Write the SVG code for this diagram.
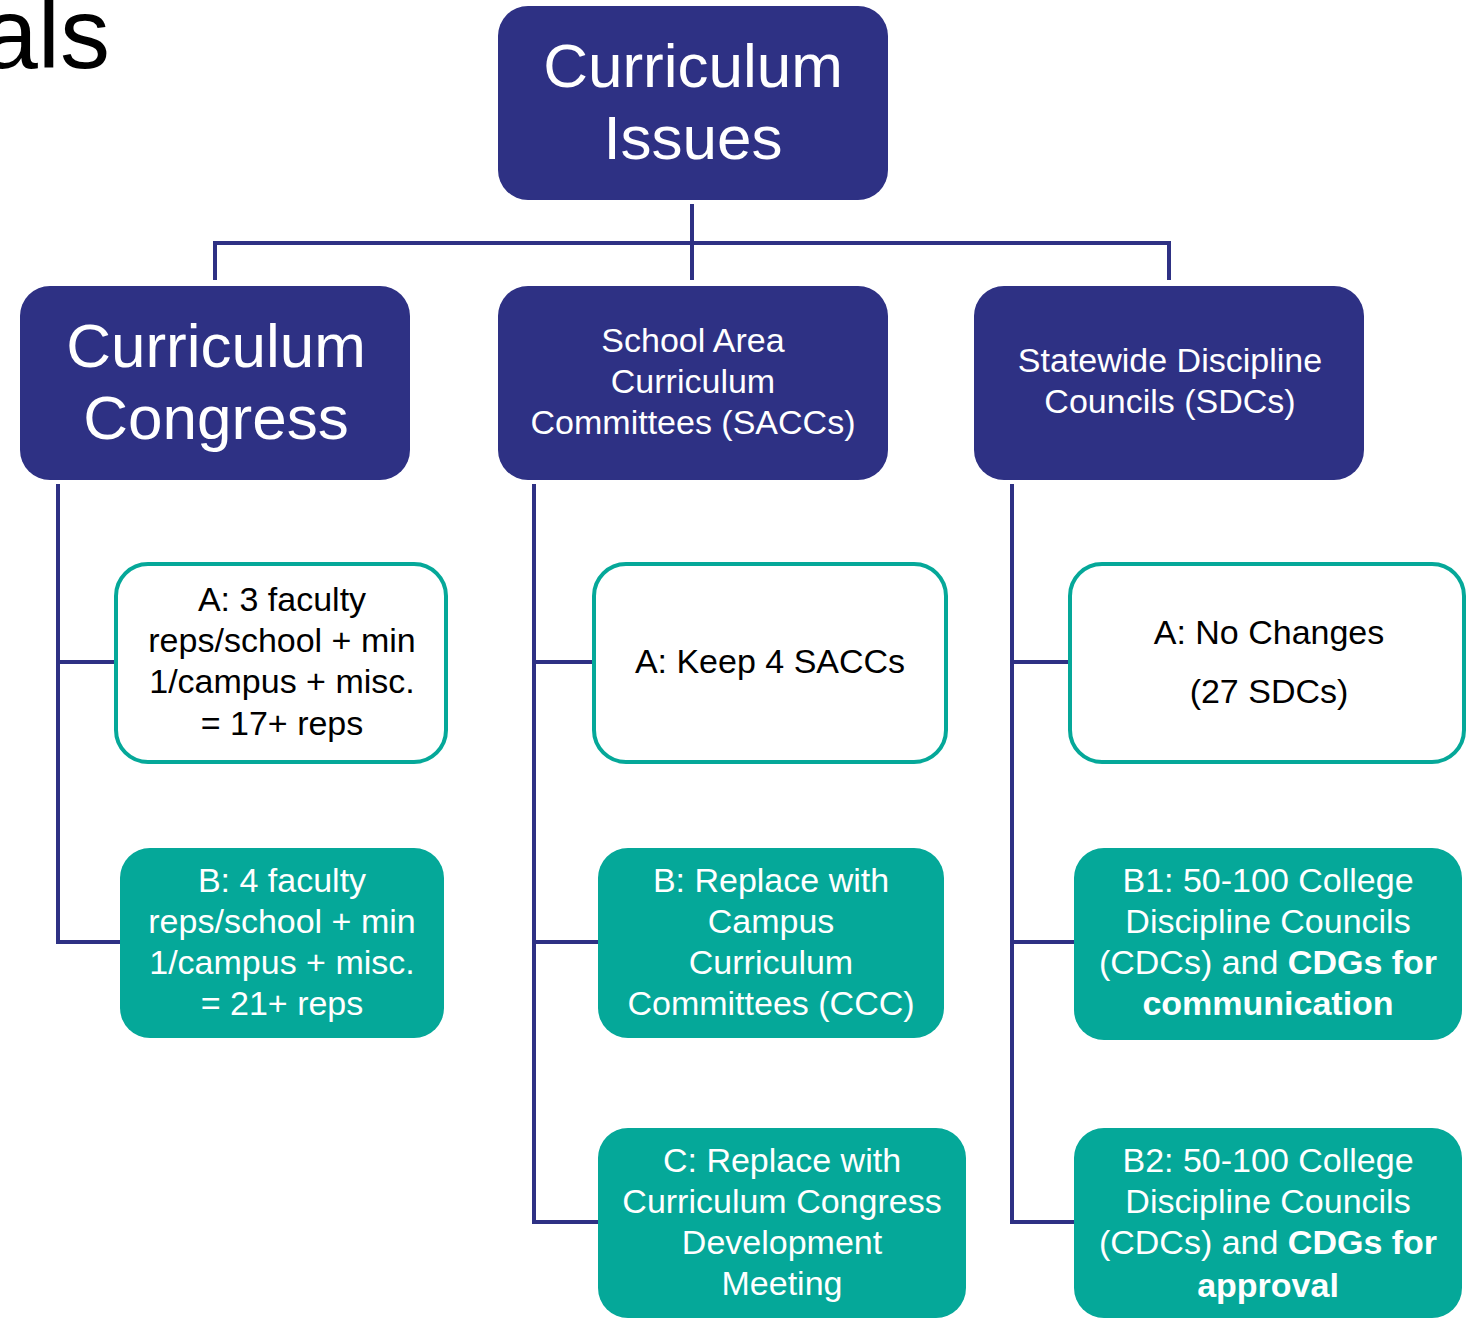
<svg xmlns="http://www.w3.org/2000/svg" width="1473" height="1319" viewBox="0 0 1473 1319">
<style>
.nv{fill:#2E3184;}
.ow{fill:#ffffff;stroke:#05A899;stroke-width:4;}
.tf{fill:#05A899;}
.wt{fill:#ffffff;font-family:"Liberation Sans","Noto Sans",sans-serif;text-anchor:middle;}
.bt{fill:#000000;font-family:"Liberation Sans","Noto Sans",sans-serif;text-anchor:middle;}
.big{font-size:62px;}
.mid{font-size:34px;}
.sm{font-size:34px;}
.b{font-weight:bold;}
.cn{fill:none;stroke:#2E3184;stroke-width:4;}
</style>
<rect width="1473" height="1319" fill="#ffffff"/>
<text x="110" y="68" font-family="Liberation Sans, sans-serif" font-size="100" text-anchor="end" fill="#000">als</text>
<g id="connectors">
<path class="cn" d="M692 204V280M215 280V243H1169V280"/>
<path class="cn" d="M58 484V942H120M58 662H116"/>
<path class="cn" d="M534 484V1222H598M534 662H594M534 942H598"/>
<path class="cn" d="M1012 484V1222H1074M1012 662H1070M1012 942H1074"/>
</g>
<g id="root">
<rect class="nv" x="498" y="6" width="390" height="194" rx="30"/>
<text class="wt big" x="693" y="87">Curriculum</text>
<text class="wt big" x="693" y="159">Issues</text>
</g>
<g id="congress">
<rect class="nv" x="20" y="286" width="390" height="194" rx="30"/>
<text class="wt big" x="216" y="367">Curriculum</text>
<text class="wt big" x="216" y="439">Congress</text>
</g>
<g id="saccs">
<rect class="nv" x="498" y="286" width="390" height="194" rx="30"/>
<text class="wt mid" x="693" y="352">School Area</text>
<text class="wt mid" x="693" y="393">Curriculum</text>
<text class="wt mid" x="693" y="434">Committees (SACCs)</text>
</g>
<g id="sdcs">
<rect class="nv" x="974" y="286" width="390" height="194" rx="30"/>
<text class="wt mid" x="1170" y="372">Statewide Discipline</text>
<text class="wt mid" x="1170" y="413">Councils (SDCs)</text>
</g>
<g id="cc-a">
<rect class="ow" x="116" y="564" width="330" height="198" rx="32"/>
<text class="bt sm" x="282" y="611">A: 3 faculty</text>
<text class="bt sm" x="282" y="652">reps/school + min</text>
<text class="bt sm" x="282" y="693">1/campus + misc.</text>
<text class="bt sm" x="282" y="735">= 17+ reps</text>
</g>
<g id="cc-b">
<rect class="tf" x="120" y="848" width="324" height="190" rx="30"/>
<text class="wt sm" x="282" y="892">B: 4 faculty</text>
<text class="wt sm" x="282" y="933">reps/school + min</text>
<text class="wt sm" x="282" y="974">1/campus + misc.</text>
<text class="wt sm" x="282" y="1015">= 21+ reps</text>
</g>
<g id="sa-a">
<rect class="ow" x="594" y="564" width="352" height="198" rx="32"/>
<text class="bt sm" x="770" y="673">A: Keep 4 SACCs</text>
</g>
<g id="sa-b">
<rect class="tf" x="598" y="848" width="346" height="190" rx="30"/>
<text class="wt sm" x="771" y="892">B: Replace with</text>
<text class="wt sm" x="771" y="933">Campus</text>
<text class="wt sm" x="771" y="974">Curriculum</text>
<text class="wt sm" x="771" y="1015">Committees (CCC)</text>
</g>
<g id="sa-c">
<rect class="tf" x="598" y="1128" width="368" height="190" rx="30"/>
<text class="wt sm" x="782" y="1172">C: Replace with</text>
<text class="wt sm" x="782" y="1213">Curriculum Congress</text>
<text class="wt sm" x="782" y="1254">Development</text>
<text class="wt sm" x="782" y="1295">Meeting</text>
</g>
<g id="sd-a">
<rect class="ow" x="1070" y="564" width="394" height="198" rx="32"/>
<text class="bt sm" x="1269" y="644">A: No Changes</text>
<text class="bt sm" x="1269" y="703">(27 SDCs)</text>
</g>
<g id="sd-b1">
<rect class="tf" x="1074" y="848" width="388" height="192" rx="30"/>
<text class="wt sm" x="1268" y="892">B1: 50-100 College</text>
<text class="wt sm" x="1268" y="933">Discipline Councils</text>
<text class="wt sm" x="1268" y="974">(CDCs) and <tspan class="b">CDGs for</tspan></text>
<text class="wt sm b" x="1268" y="1015">communication</text>
</g>
<g id="sd-b2">
<rect class="tf" x="1074" y="1128" width="388" height="190" rx="30"/>
<text class="wt sm" x="1268" y="1172">B2: 50-100 College</text>
<text class="wt sm" x="1268" y="1213">Discipline Councils</text>
<text class="wt sm" x="1268" y="1254">(CDCs) and <tspan class="b">CDGs for</tspan></text>
<text class="wt sm b" x="1268" y="1297">approval</text>
</g>
</svg>
